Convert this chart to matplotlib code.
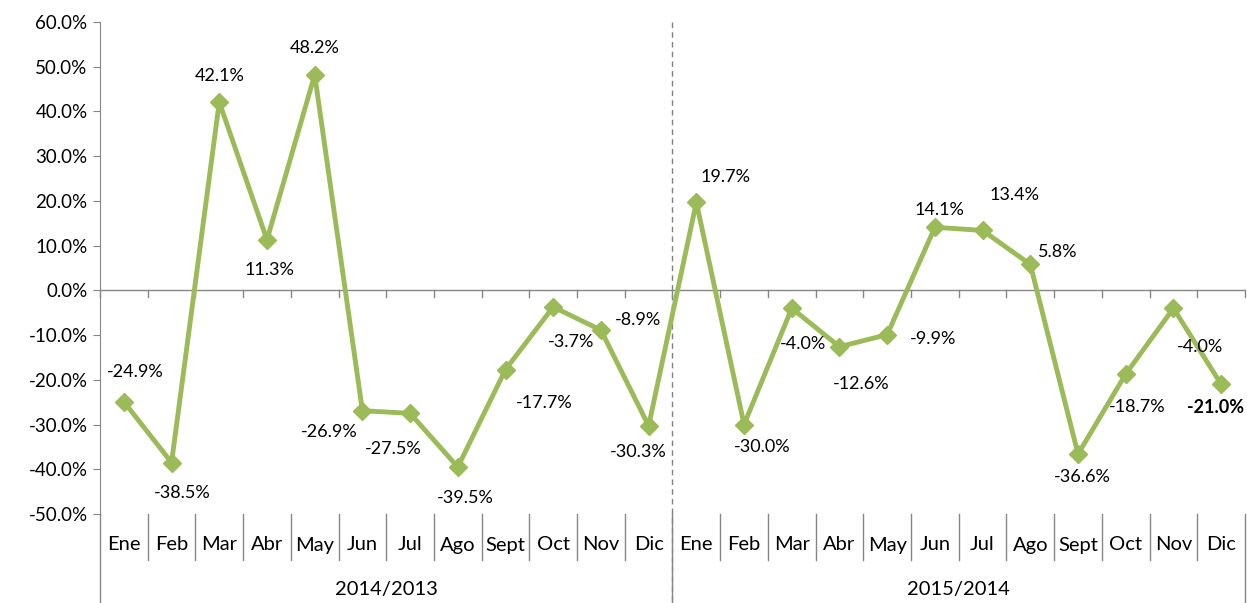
import matplotlib
matplotlib.use("Agg")
import matplotlib.pyplot as plt
import matplotlib.transforms as mtransforms

months = ["Ene", "Feb", "Mar", "Abr", "May", "Jun", "Jul", "Ago", "Sept", "Oct", "Nov", "Dic"]
groups = ["2014/2013", "2015/2014"]
values_2014 = [-24.9, -38.5, 42.1, 11.3, 48.2, -26.9, -27.5, -39.5, -17.7, -3.7, -8.9, -30.3]
values_2015 = [19.7, -30.0, -4.0, -12.6, -9.9, 14.1, 13.4, 5.8, -36.6, -18.7, -4.0, -21.0]
yticks = [60, 50, 40, 30, 20, 10, 0, -10, -20, -30, -40, -50]

# label placement (pixel offsets relative to each point)
label_offsets = [(11, 30), (11, -30), (0, 26), (2, -30), (0, 27), (-33, -21), (-17, -36), (7, -31),
                 (39, -33), (18, -35), (37, 10), (-10, -26),
                 (29, 25), (18, -22), (11, -36), (22, -37), (46, -4), (5, 17), (32, 35), (27, 12),
                 (4, -23), (11, -33), (27, -39), (-6, -23)]

values = values_2014 + values_2015
labels = months + months
n = len(values)
x = list(range(n))

plt.rcParams['font.family'] = ['Lato', 'DejaVu Sans']
fig = plt.figure(figsize=(12.47, 6.03), dpi=100)
ax = fig.add_axes([100/1247, 1 - 514/603, 1145/1247, 492/603])

green = "#9BBB59"
ax.plot(x, [v/100 for v in values], color=green, lw=3.5, marker="D", ms=9, zorder=3)

ax.set_xlim(-0.5, n - 0.5)
ax.set_ylim(-0.5, 0.6)
ax.set_yticks([t/100 for t in yticks])
ax.set_yticklabels([f"{t:.1f}%" for t in yticks], fontsize=13.5)
ax.tick_params(axis='y', direction='out', length=5, color='#868686', pad=4)

for s in ["top", "right", "bottom"]:
    ax.spines[s].set_visible(False)
ax.spines["left"].set_color("#868686")

# category axis at 0
ax.axhline(0, color="#868686", lw=1, zorder=1)
ax.set_xticks([])
bt = mtransforms.blended_transform_factory(ax.transData, ax.transAxes)
ax_h = 492.0
y0_frac = 0.5 / 1.1
for k in range(n + 1):
    xb = k - 0.5
    ax.plot([xb, xb], [y0_frac, y0_frac - 7/ax_h], transform=bt, color="#868686", lw=1, clip_on=False)

# bottom label area
for k in range(n + 1):
    xb = k - 0.5
    long = (k % 12 == 0)
    ybot = -89/ax_h if long else -46/ax_h
    ax.plot([xb, xb], [0, ybot], transform=bt, color="#868686", lw=1, clip_on=False)
for i, m in enumerate(labels):
    ax.text(i, -31/ax_h, m, transform=bt, ha="center", va="center", fontsize=14.5, clip_on=False)
for g, name in enumerate(groups):
    ax.text(g*12 + 5.5, -76/ax_h, name, transform=bt, ha="center", va="center", fontsize=14.5, clip_on=False)

# dashed separator
ax.plot([11.5, 11.5], [1.0, -89/ax_h], transform=bt, color="#808080", lw=1, ls=(0, (4, 3)), clip_on=False, zorder=1)

# data labels
for i, v in enumerate(values):
    dx, dy = label_offsets[i]
    ax.annotate(f"{v:.1f}%", (i, v/100), xytext=(dx, dy), textcoords="offset pixels",
                ha="center", va="center", fontsize=13,
                fontweight="bold" if i == n - 1 else "normal")

fig.savefig("out.png", dpi=100)
